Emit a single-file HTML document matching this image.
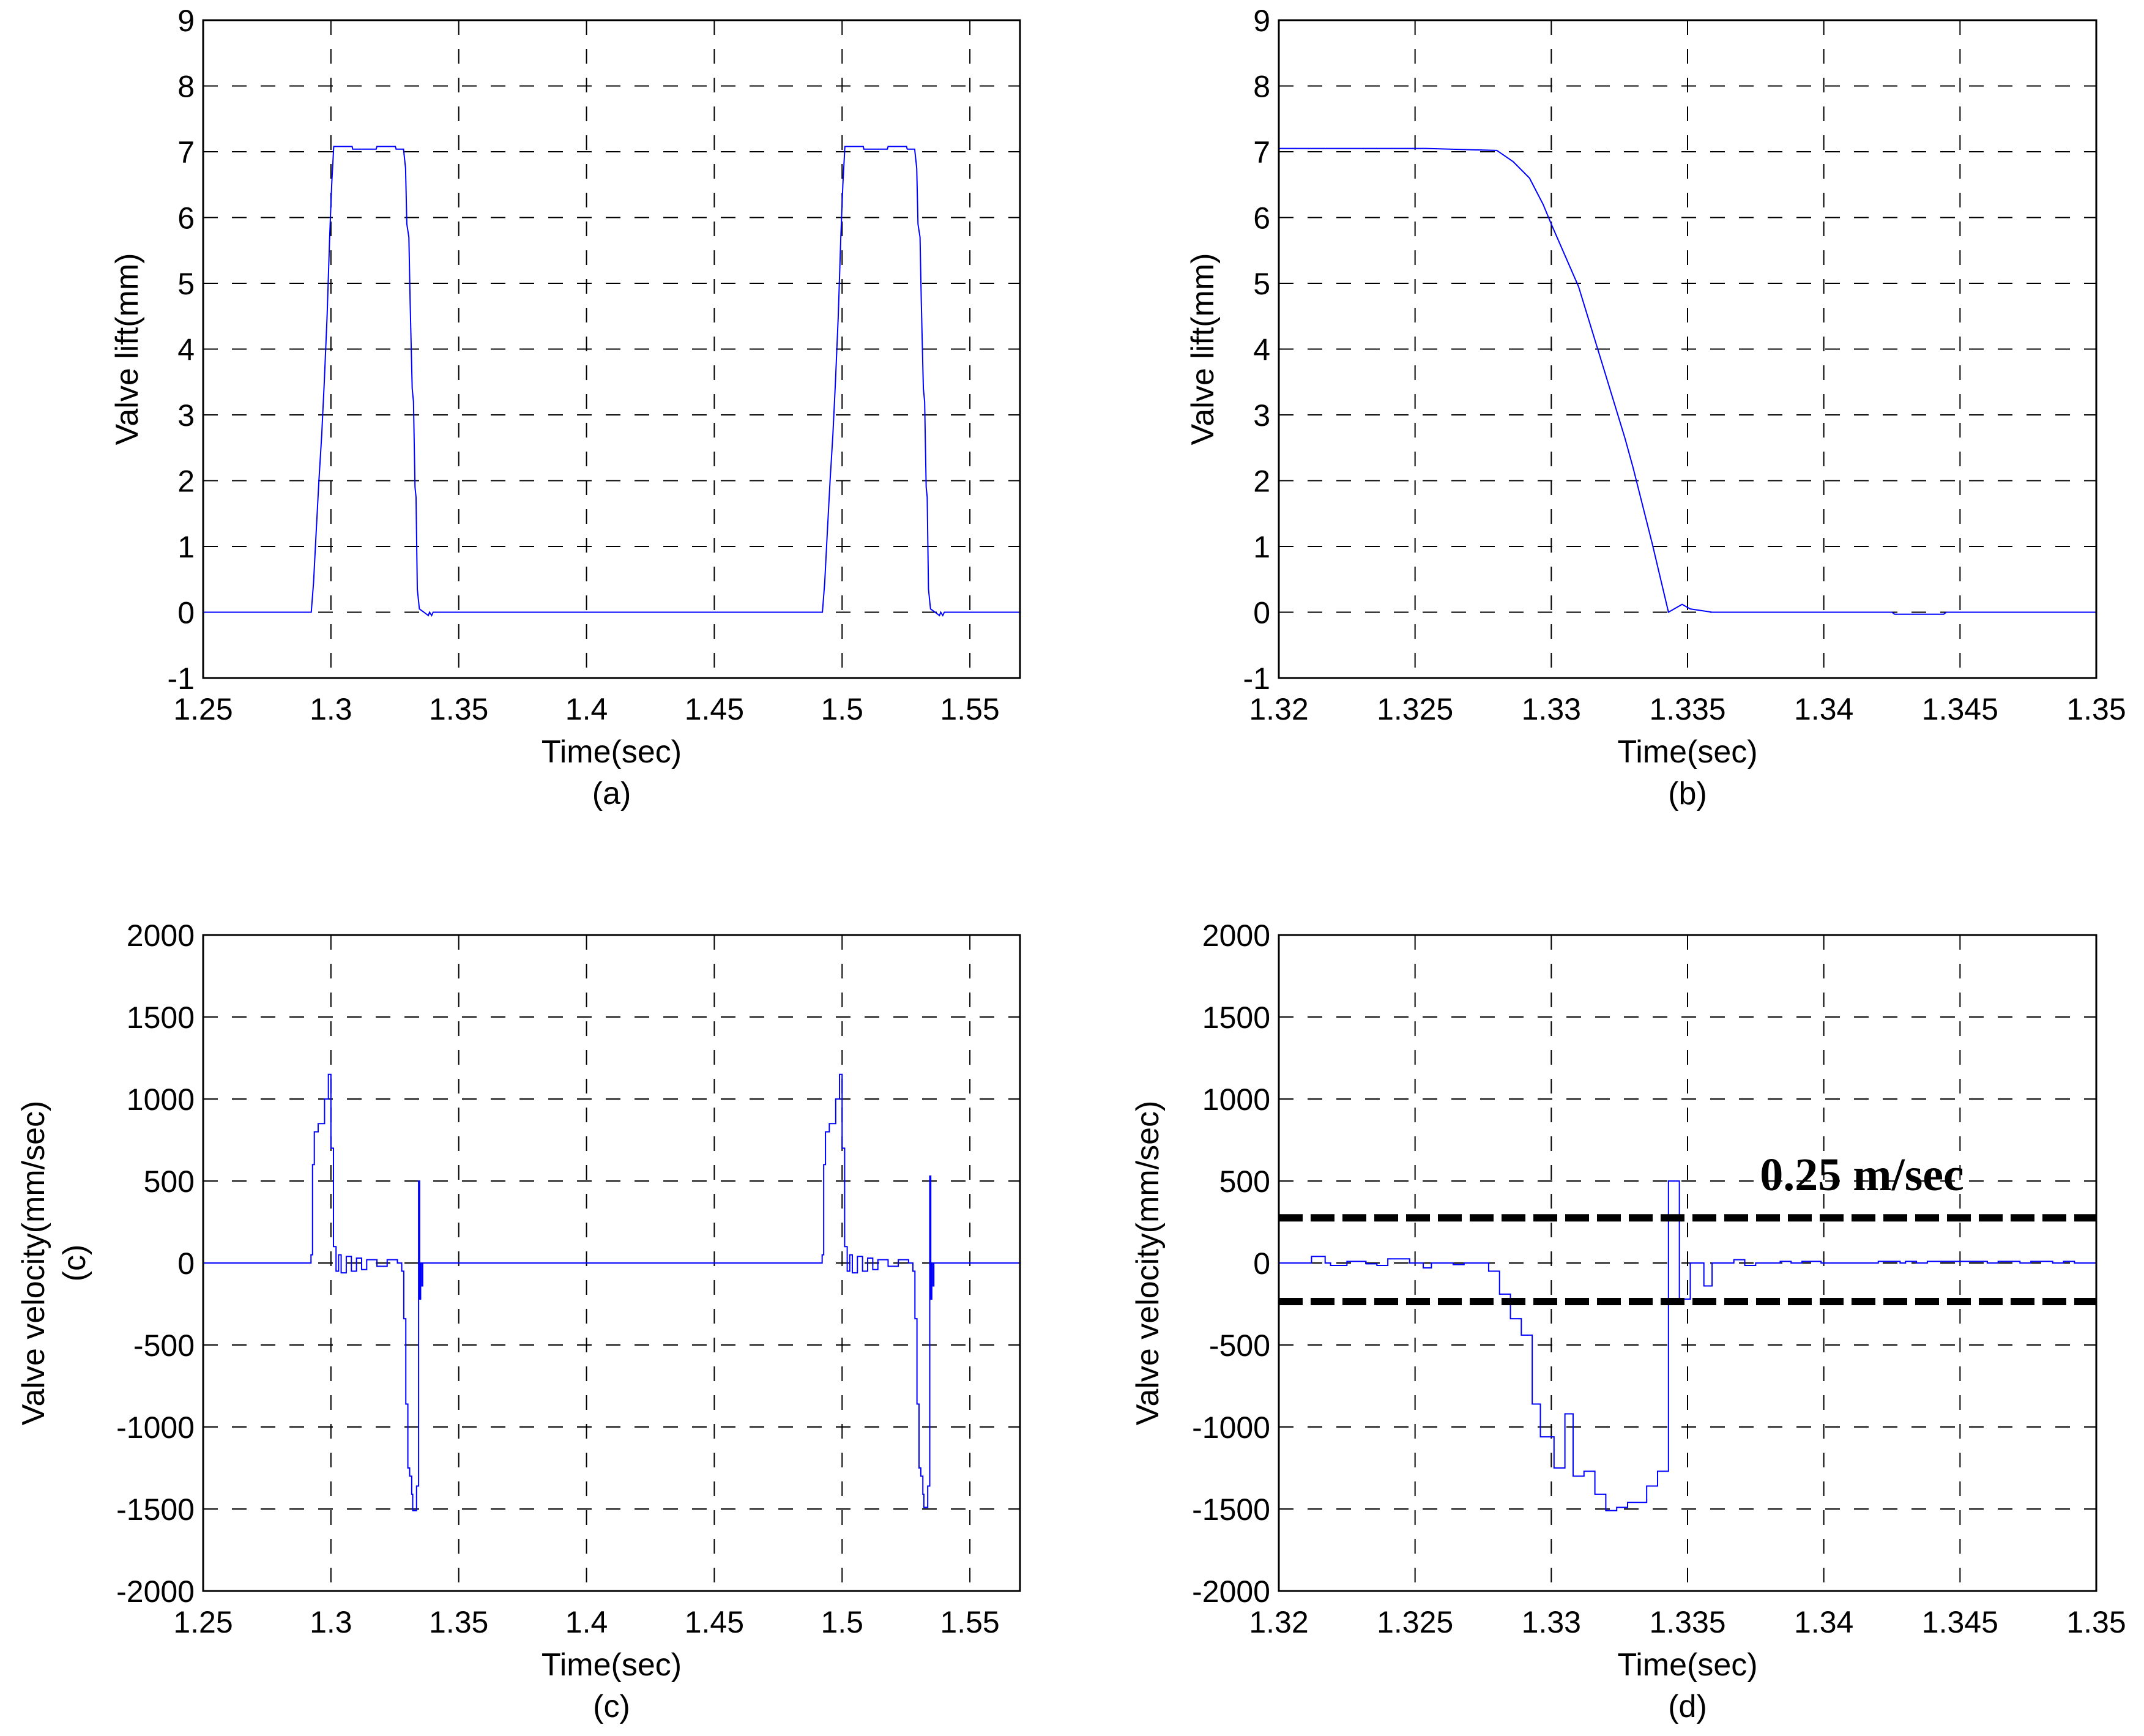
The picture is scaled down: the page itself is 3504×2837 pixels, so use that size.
<!DOCTYPE html>
<html><head><meta charset="utf-8"><style>
html,body{margin:0;padding:0;background:#fff}
svg{display:block}
text{font-family:"Liberation Sans",sans-serif;fill:#000}
</style></head><body>
<svg id="fig" width="3504" height="2837" viewBox="0 0 3504 2837" xmlns="http://www.w3.org/2000/svg"></svg>
<script>
// ---- data ----
const liftAT = [1.25,1.2923,1.2932,1.2942,1.2953,1.2964,1.2974,1.2985,1.2995,1.3003,1.3011,1.3083,1.3085,1.3177,1.3180,1.3252,1.3255,1.3284,1.3292,1.3297,1.3305,1.3310,1.3318,1.3323,1.3329,1.3333,1.3338,1.3346,1.3364,1.3381,1.3386,1.3394,1.3400,1.4923,1.4932,1.4942,1.4953,1.4964,1.4974,1.4985,1.4995,1.5003,1.5011,1.5083,1.5085,1.5177,1.5180,1.5252,1.5255,1.5284,1.5292,1.5297,1.5305,1.5310,1.5318,1.5323,1.5329,1.5333,1.5338,1.5346,1.5364,1.5381,1.5386,1.5394,1.5400,1.57];
const liftAV = [0,0,0.45,1.2,2.0,2.7,3.5,4.5,5.7,6.5,7.08,7.08,7.04,7.04,7.08,7.08,7.04,7.04,6.75,5.9,5.7,4.7,3.4,3.2,1.9,1.75,0.35,0.05,0,-0.05,0,-0.05,0,0,0.45,1.2,2.0,2.7,3.5,4.5,5.7,6.5,7.08,7.08,7.04,7.04,7.08,7.08,7.04,7.04,6.75,5.9,5.7,4.7,3.4,3.2,1.9,1.75,0.35,0.05,0,-0.05,0,-0.05,0,0];
const liftBT = [1.32,1.3254,1.3280,1.3286,1.3292,1.3297,1.3300,1.3310,1.3320,1.3327,1.3330,1.3337,1.3343,1.3348,1.3351,1.3359,1.3425,1.3426,1.3444,1.3445,1.35];
const liftBV = [7.05,7.05,7.02,6.85,6.6,6.2,5.9,4.95,3.6,2.65,2.2,1.05,0,0.12,0.05,0,0,-0.03,-0.03,0,0];
const velCT = [1.25,1.2922,1.2928,1.2935,1.2950,1.2975,1.2990,1.3000,1.3010,1.3020,1.3030,1.3040,1.3060,1.3080,1.3100,1.3120,1.3140,1.3180,1.3220,1.3260,1.3277,1.3285,1.3293,1.3301,1.3308,1.3316,1.3320,1.3335,1.3343,1.3347,1.3351,1.3356,1.3359,1.4922,1.4928,1.4935,1.4950,1.4975,1.4990,1.5000,1.5010,1.5020,1.5030,1.5040,1.5060,1.5080,1.5100,1.5120,1.5140,1.5180,1.5220,1.5260,1.5277,1.5285,1.5293,1.5301,1.5308,1.5316,1.5320,1.5335,1.5343,1.5347,1.5351,1.5356,1.5359,1.57];
const velCV = [0,50,600,800,850,1000,1150,700,100,-50,50,-60,40,-50,30,-40,20,-20,20,0,-50,-340,-860,-1250,-1300,-1410,-1510,-1360,500,-220,0,-140,0,50,600,800,850,1000,1150,700,100,-50,50,-60,40,-50,30,-40,20,-20,20,0,-50,-340,-860,-1250,-1300,-1410,-1490,-1360,530,-220,0,-140,0,0];
const velDT = [1.3200,1.3212,1.3217,1.3219,1.3225,1.3232,1.3236,1.3240,1.3248,1.3253,1.3256,1.3264,1.3268,1.3277,1.3281,1.3285,1.3289,1.3293,1.3296,1.3301,1.3305,1.3308,1.3312,1.3316,1.3320,1.3324,1.3328,1.3335,1.3339,1.3343,1.3347,1.3351,1.3356,1.3359,1.3367,1.3371,1.3375,1.3384,1.3388,1.3392,1.3399,1.3420,1.3428,1.3430,1.3434,1.3438,1.3460,1.3464,1.3472,1.3476,1.3484,1.3488,1.3492,1.3500];
const velDV = [0,40,0,-15,10,-5,-15,25,0,-30,0,-10,0,-50,-190,-340,-440,-860,-1060,-1250,-920,-1300,-1270,-1410,-1510,-1490,-1460,-1360,-1270,500,-220,0,-140,0,20,-15,0,10,0,10,0,10,0,10,0,10,0,10,0,10,0,10,0,0];
const ticksA = ["1.25","1.3","1.35","1.4","1.45","1.5","1.55"];
const ticksB = ["1.32","1.325","1.33","1.335","1.34","1.345","1.35"];
const liftTicks = [-1,0,1,2,3,4,5,6,7,8,9];
const velTicks = [-2000,-1500,-1000,-500,0,500,1000,1500,2000];
const bandV = [275,-235];

const NS="http://www.w3.org/2000/svg";
const svg=document.getElementById('fig');
function mk(tag,attrs,parent){const e=document.createElementNS(NS,tag);for(const k in attrs)e.setAttribute(k,attrs[k]);(parent||svg).appendChild(e);return e;}

function panel(id,box,xmin,xmax,xticks,ymin,ymax,yticks,ylabel,ylabel2,sub,T,V,stairs,ylx){
  const g=mk('g',{});
  
  
  const sx=t=>box.l+(t-xmin)/(xmax-xmin)*(box.r-box.l);
  const sy=v=>box.b-(v-ymin)/(ymax-ymin)*(box.b-box.t);
  xticks.forEach(s=>{const x=sx(parseFloat(s));
    if(x>box.l+2&&x<box.r-2){const l=mk('line',{x1:x,x2:x,y1:box.t,y2:box.b,stroke:'#000','stroke-width':2,'stroke-dasharray':'24 23'},g);
    
    }
    const tx=mk('text',{x:x,y:box.b+68,'font-size':50,'text-anchor':'middle'},g);tx.textContent=s;
    
    
  });
  yticks.forEach(v=>{const y=sy(v);
    if(y>box.t+2&&y<box.b-2){const l=mk('line',{x1:box.l,x2:box.r,y1:y,y2:y,stroke:'#000','stroke-width':2,'stroke-dasharray':'24 23'},g);
    
    }
    const tx=mk('text',{x:box.l-14,y:y+18,'font-size':50,'text-anchor':'end'},g);tx.textContent=String(v);
    
    
  });
  let d='';
  for(let i=0;i<T.length;i++){
    const x=sx(T[i]),y=sy(V[i]);
    if(i===0)d+='M'+x+' '+y;
    else if(stairs){d+=' L'+x+' '+sy(V[i-1])+' L'+x+' '+y;}
    else d+=' L'+x+' '+y;
  }
  const p=mk('path',{d:d,fill:'none',stroke:'#0000ff','stroke-width':2},g);
  
  
  const fr=mk('rect',{x:box.l,y:box.t,width:box.r-box.l,height:box.b-box.t,fill:'none',stroke:'#000','stroke-width':3},g);
  
  
  const cx=(box.l+box.r)/2;
  const xl=mk('text',{x:cx,y:box.b+138,'font-size':52,'text-anchor':'middle'},g);xl.textContent='Time(sec)';
  
  
  const sl=mk('text',{x:cx,y:box.b+206,'font-size':52,'text-anchor':'middle'},g);sl.textContent=sub;
  
  
  const cy=(box.t+box.b)/2;
  const yl=mk('text',{x:ylx,y:cy,'font-size':52,'text-anchor':'middle',transform:'rotate(-90 '+ylx+' '+cy+')'},g);
  yl.textContent=ylabel;
  
  
  if(ylabel2){const x2=ylx+67;const y2=mk('text',{x:x2,y:cy,'font-size':52,'text-anchor':'middle',transform:'rotate(-90 '+x2+' '+cy+')'},g);y2.textContent=ylabel2;
    
    }
  return {g,sx,sy};
}
const topRow={t:33,b:1108},botRow={t:1528,b:2600};
panel('a',{l:332,r:1667,t:topRow.t,b:topRow.b},1.25,1.25+(1667-332)/4177,ticksA,-1,9,liftTicks,'Valve lift(mm)',null,'(a)',liftAT,liftAV,false,225);
panel('b',{l:2090,r:3426,t:topRow.t,b:topRow.b},1.32,1.35,ticksB,-1,9,liftTicks,'Valve lift(mm)',null,'(b)',liftBT,liftBV,false,1983);
panel('c',{l:332,r:1667,t:botRow.t,b:botRow.b},1.25,1.25+(1667-332)/4177,ticksA,-2000,2000,velTicks,'Valve velocity(mm/sec)','(c)','(c)',velCT,velCV,true,72);
const pd=panel('d',{l:2090,r:3426,t:botRow.t,b:botRow.b},1.32,1.35,ticksB,-2000,2000,velTicks,'Valve velocity(mm/sec)',null,'(d)',velDT,velDV,true,1893);
bandV.forEach(v=>{const l=mk('line',{x1:2090,x2:3426,y1:pd.sy(v),y2:pd.sy(v),stroke:'#000','stroke-width':12,'stroke-dasharray':'39 13'},pd.g);
  
  });
const ann=mk('text',{x:3043,y:1945,'font-size':76,'font-weight':'bold','text-anchor':'middle',style:'font-family:"Liberation Serif",serif'},pd.g);
ann.textContent='0.25 m/sec';


</script>
</body></html>
